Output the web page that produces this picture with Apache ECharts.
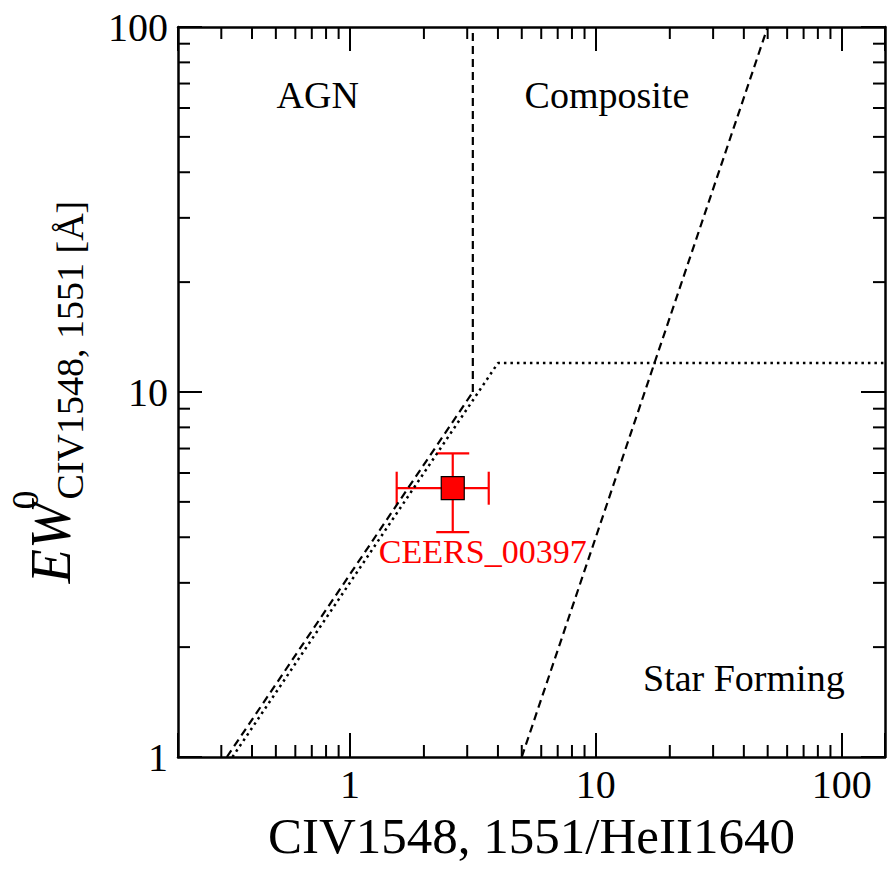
<!DOCTYPE html>
<html>
<head>
<meta charset="utf-8">
<script src="https://cdn.jsdelivr.net/npm/echarts@6/dist/echarts.min.js"></script>
<style>
html, body { margin: 0; padding: 0; background: #fff; }
#chart { width: 891px; height: 891px; }
</style>
</head>
<body>
<div id="chart"></div>
<script>
// axis ranges
var xRange = [0.2, 150];
var yRange = [1, 100];

// demarcation lines (ratio, EW)
var agnLine = [[0.316, 1], [3.162, 10]];
var agnVertical = [[3.162, 10], [3.162, 100]];
var sfLine = [[5, 1], [50, 100]];
var dottedLine = [[0.333, 1], [4, 12], [150, 12]];

// measured source: [ratio, EW, ratioLo, ratioHi, ewLo, ewHi]
var sourceNames = ['CEERS_00397'];
var sourceValues = [[2.62, 5.45, 1.55, 3.67, 4.13, 6.79]];

// region labels
var regionNames = ['AGN', 'Composite', 'Star Forming'];
var regionPos = [[0.74, 65], [11.1, 65], [40, 1.65]];

// minor tick values
var minorX = [0.3, 0.4, 0.5, 0.6, 0.7, 0.8, 0.9, 2, 3, 4, 5, 6, 7, 8, 9, 20, 30, 40, 50, 60, 70, 80, 90];
var minorY = [2, 3, 4, 5, 6, 7, 8, 9, 20, 30, 40, 50, 60, 70, 80, 90];

var FONT = 'Liberation Serif';
var chart = echarts.init(document.getElementById('chart'), null, {renderer: 'svg'});

function decadeLabel(v) {
  var l = Math.log10(v);
  return Math.abs(l - Math.round(l)) < 1e-6 ? String(Math.round(v)) : '';
}

var axisLine = {lineStyle: {color: '#000', width: 2.5}};
var majorTick = {inside: true, length: 24, lineStyle: {color: '#000', width: 2}};

function lineSeries(data, dash, width) {
  return {
    type: 'line', data: data, symbol: 'none', silent: true,
    xAxisIndex: 0, yAxisIndex: 0,
    lineStyle: {color: '#000', width: width, type: dash}
  };
}

option = {
  animation: false,
  backgroundColor: '#fff',
  grid: {left: 178, right: 6, top: 27, bottom: 134, containLabel: false, outerBoundsMode: 'none'},
  xAxis: [
    {
      type: 'log', logBase: 10, min: xRange[0], max: xRange[1], position: 'bottom',
      axisLine: axisLine, axisTick: majorTick, splitLine: {show: false},
      axisLabel: {formatter: decadeLabel, fontFamily: FONT, fontSize: 40, color: '#000', margin: 7},
      name: 'CIV1548, 1551/HeII1640', nameLocation: 'middle', nameGap: 53,
      nameTextStyle: {fontFamily: FONT, fontSize: 51, color: '#000', verticalAlign: 'top'}
    },
    {
      type: 'log', logBase: 10, min: xRange[0], max: xRange[1], position: 'top',
      axisLine: axisLine, axisTick: majorTick, splitLine: {show: false},
      axisLabel: {show: false}
    }
  ],
  yAxis: [
    {
      type: 'log', logBase: 10, min: yRange[0], max: yRange[1], position: 'left',
      axisLine: axisLine, axisTick: majorTick, splitLine: {show: false},
      axisLabel: {formatter: decadeLabel, fontFamily: FONT, fontSize: 40, color: '#000', margin: 10},
      name: '{ew|EW}{sup|0}{sub|CIV1548, 1551 [Å]}',
      nameLocation: 'middle', nameRotate: 90, nameGap: 116,
      nameTextStyle: {
        fontFamily: FONT, color: '#000',
        rich: {
          ew: {fontFamily: FONT, fontStyle: 'italic', fontSize: 56, lineHeight: 56,
               verticalAlign: 'top', padding: [17, 2, 0, 0], color: '#000'},
          sup: {fontFamily: FONT, fontSize: 38, lineHeight: 38, verticalAlign: 'top', width: 1, color: '#000'},
          sub: {fontFamily: FONT, fontSize: 38, lineHeight: 38, verticalAlign: 'top',
                padding: [45, 0, 0, 0], color: '#000'}
        }
      }
    },
    {
      type: 'log', logBase: 10, min: yRange[0], max: yRange[1], position: 'right',
      axisLine: axisLine, axisTick: majorTick, splitLine: {show: false},
      axisLabel: {show: false}
    }
  ],
  series: [
    // minor ticks on bottom and top
    {
      type: 'custom', silent: true, xAxisIndex: 0, yAxisIndex: 0,
      data: minorX.map(function (v) { return [v, yRange[0]]; }),
      renderItem: function (params, api) {
        var b = api.coord([api.value(0), yRange[0]]);
        var t = api.coord([api.value(0), yRange[1]]);
        var st = {stroke: '#000', lineWidth: 2};
        return {type: 'group', children: [
          {type: 'line', shape: {x1: b[0], y1: b[1], x2: b[0], y2: b[1] - 12}, style: st},
          {type: 'line', shape: {x1: t[0], y1: t[1], x2: t[0], y2: t[1] + 12}, style: st}
        ]};
      }
    },
    // minor ticks on left and right
    {
      type: 'custom', silent: true, xAxisIndex: 0, yAxisIndex: 0,
      data: minorY.map(function (v) { return [xRange[0], v]; }),
      renderItem: function (params, api) {
        var l = api.coord([xRange[0], api.value(1)]);
        var r = api.coord([xRange[1], api.value(1)]);
        var st = {stroke: '#000', lineWidth: 2};
        return {type: 'group', children: [
          {type: 'line', shape: {x1: l[0], y1: l[1], x2: l[0] + 12, y2: l[1]}, style: st},
          {type: 'line', shape: {x1: r[0], y1: r[1], x2: r[0] - 12, y2: r[1]}, style: st}
        ]};
      }
    },
    lineSeries(agnLine, [8, 5], 2.2),
    lineSeries(agnVertical, [8, 5], 2.2),
    lineSeries(sfLine, [8, 5], 2.2),
    lineSeries(dottedLine, [2.5, 4], 2.5),
    // region names
    {
      type: 'scatter', silent: true, symbolSize: 0,
      itemStyle: {opacity: 1},
      data: regionPos.map(function (p, i) { return {name: regionNames[i], value: p}; }),
      label: {
        show: true, position: 'inside', formatter: '{b}',
        fontFamily: FONT, fontSize: 38, color: '#000'
      }
    },
    // error bars
    {
      type: 'custom', silent: true, xAxisIndex: 0, yAxisIndex: 0,
      data: sourceValues,
      encode: {x: 0, y: 1},
      renderItem: function (params, api) {
        var x = api.value(0), y = api.value(1);
        var l = api.coord([api.value(2), y]);
        var r = api.coord([api.value(3), y]);
        var b = api.coord([x, api.value(4)]);
        var t = api.coord([x, api.value(5)]);
        var cap = 16.5;
        var st = {stroke: '#ff0000', lineWidth: 2.2};
        return {type: 'group', children: [
          {type: 'line', shape: {x1: l[0], y1: l[1], x2: r[0], y2: r[1]}, style: st},
          {type: 'line', shape: {x1: b[0], y1: b[1], x2: t[0], y2: t[1]}, style: st},
          {type: 'line', shape: {x1: l[0], y1: l[1] - cap, x2: l[0], y2: l[1] + cap}, style: st},
          {type: 'line', shape: {x1: r[0], y1: r[1] - cap, x2: r[0], y2: r[1] + cap}, style: st},
          {type: 'line', shape: {x1: b[0] - cap, y1: b[1], x2: b[0] + cap, y2: b[1]}, style: st},
          {type: 'line', shape: {x1: t[0] - cap, y1: t[1], x2: t[0] + cap, y2: t[1]}, style: st}
        ]};
      }
    },
    // source marker
    {
      type: 'scatter', symbol: 'rect', symbolSize: 23,
      data: sourceValues.map(function (v, i) { return {name: sourceNames[i], value: [v[0], v[1]]}; }),
      itemStyle: {color: '#ff0000', borderColor: '#000', borderWidth: 1.2, opacity: 1},
      label: {
        show: true, position: 'inside', offset: [30, 63], formatter: '{b}',
        fontFamily: FONT, fontSize: 34, color: '#ff0000'
      },
      z: 5
    }
  ]
};
chart.setOption(option);

window.addEventListener('resize', function () {
  chart.resize();
});
</script>
</body>
</html>
